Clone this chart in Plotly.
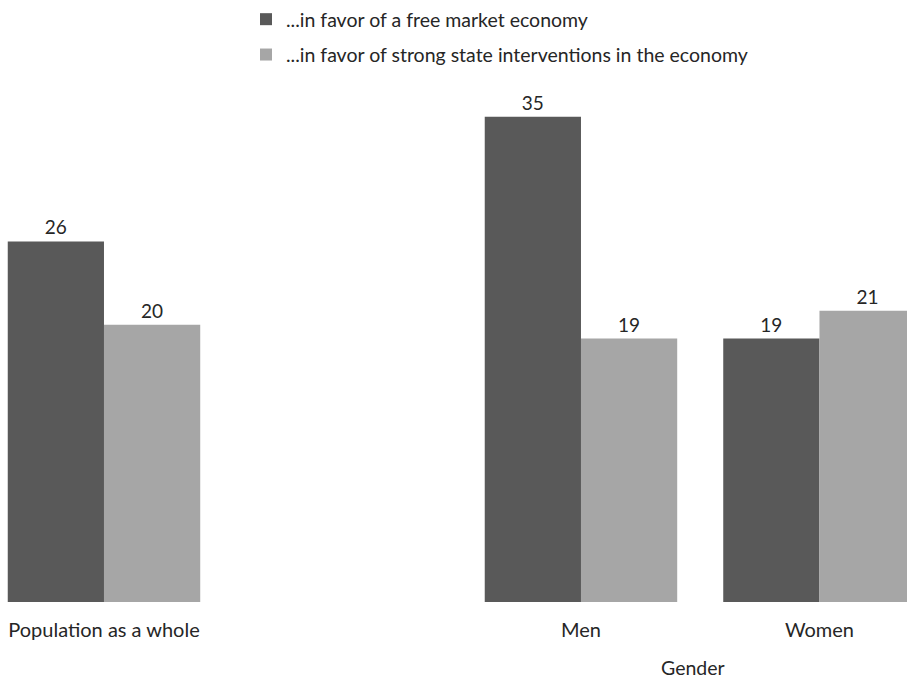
import plotly.graph_objects as go

# Survey shares (%) by group
categories = ["Population as a whole", "Men", "Women"]
cat_pos = [0, 2, 3]  # slot 1 left empty to separate the gender block
free_market = [26, 35, 19]
state_intervention = [20, 19, 21]
series_names = [
    "...in favor of a free market economy",
    "...in favor of strong state interventions in the economy",
]

FONT = "Lato"
TXT = "#262626"

fig = go.Figure()
fig.add_trace(go.Bar(
    x=cat_pos, y=free_market, name=series_names[0], legendgroup="a",
    marker=dict(color="#595959", line=dict(width=0)),
    text=free_market, textposition="outside", cliponaxis=False,
    textfont=dict(family=FONT, size=19, color=TXT),
))
fig.add_trace(go.Bar(
    x=cat_pos, y=state_intervention, name=series_names[1], legendgroup="b",
    marker=dict(color="#a6a6a6", line=dict(width=0)),
    text=state_intervention, textposition="outside", cliponaxis=False,
    textfont=dict(family=FONT, size=19, color=TXT),
))

fig.update_layout(
    width=907, height=678,
    margin=dict(l=0, r=0, t=100, b=76, autoexpand=False),
    paper_bgcolor="white", plot_bgcolor="white",
    barmode="group", bargap=0.193, bargroupgap=0,
    font=dict(family=FONT, size=19, color=TXT),
    showlegend=True,
    legend=dict(
        x=246 / 907, xanchor="left", y=1.0, yanchor="top",
        yref="container",
        orientation="v", tracegroupgap=7,
        font=dict(family=FONT, size=19.5, color=TXT),
        bgcolor="rgba(0,0,0,0)",
    ),
    xaxis=dict(
        range=[-0.436, 3.367], tickmode="array", tickvals=cat_pos,
        ticktext=categories, showgrid=False, zeroline=False, showline=False,
        ticks="", ticklabelstandoff=14,
        tickfont=dict(family=FONT, size=20, color=TXT),
    ),
    yaxis=dict(range=[0, 36.2], visible=False),
    annotations=[dict(
        x=2.47, y=-0.158, xref="x", yref="paper", text="Gender",
        showarrow=False, font=dict(family=FONT, size=19.5, color=TXT),
    )],
)

fig.write_html("out.html")
